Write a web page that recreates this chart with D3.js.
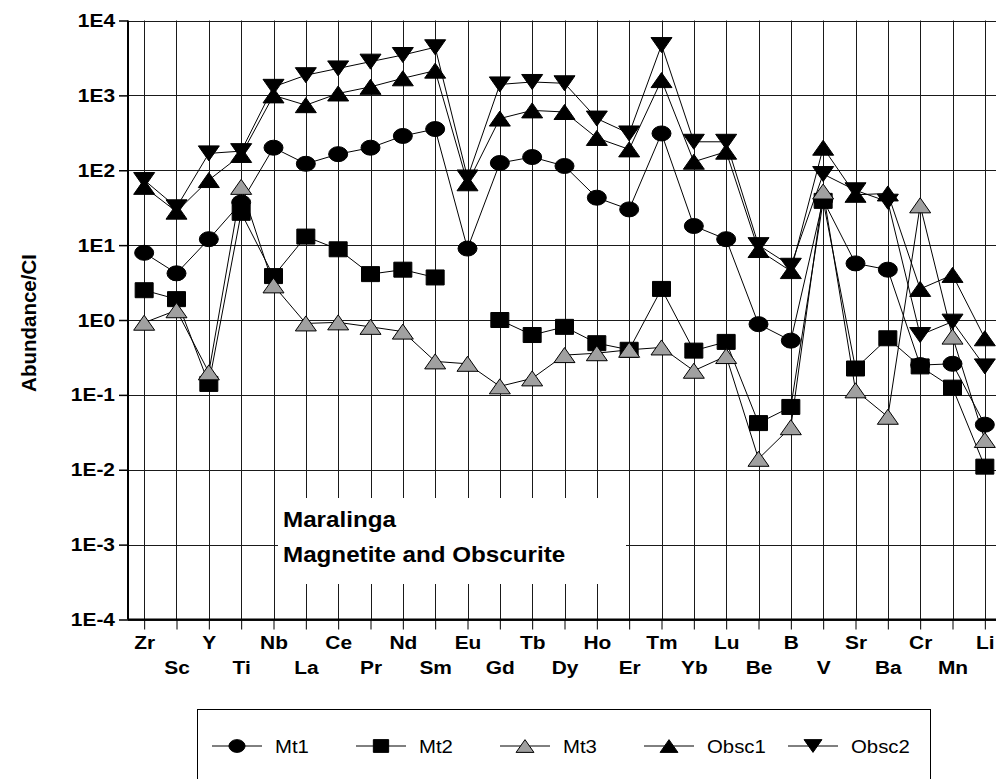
<!DOCTYPE html>
<html>
<head>
<meta charset="utf-8">
<script src="https://cdn.jsdelivr.net/npm/d3@7"></script>
<style>
  html, body { margin: 0; padding: 0; background: #fff; }
  svg { display: block; }
  text { font-family: "Liberation Sans", Arial, sans-serif; fill: #000; }
</style>
</head>
<body>
<svg id="chart" width="996" height="779"></svg>
<script>
// ---------------- DATA ----------------
const categories = ["Zr","Sc","Y","Ti","Nb","La","Ce","Pr","Nd","Sm","Eu","Gd","Tb","Dy","Ho","Er","Tm","Yb","Lu","Be","B","V","Sr","Ba","Cr","Mn","Li"];

const mt1   = [7.9, 4.2, 12, 37, 200, 122, 164, 200, 287, 355, 9.0, 125, 150, 114, 43, 30, 310, 18, 12, 0.88, 0.53, 40, 5.7, 4.7, 0.25, 0.26, 0.040];
const mt2   = [2.5, 1.9, 0.14, 27, 3.86, 13, 8.8, 4.1, 4.7, 3.7, null, 1.0, 0.63, 0.81, 0.49, 0.40, 2.6, 0.39, 0.51, 0.042, 0.069, 39, 0.225, 0.57, 0.24, 0.125, 0.011];
const mt3   = [0.92, 1.35, 0.20, 60, 2.9, 0.90, 0.93, 0.81, 0.70, 0.28, 0.26, 0.13, 0.166, 0.34, 0.36, 0.40, 0.43, 0.21, 0.33, 0.014, 0.037, 52, 0.115, 0.051, 34, 0.60, 0.025];
const obsc1 = [60, 28, 74, 160, 1000, 740, 1060, 1300, 1690, 2140, 67, 490, 630, 600, 270, 190, 1600, 130, 177, 8.6, 4.5, 200, 47, 49, 2.6, 4.0, 0.57];
const obsc2 = [74, 32, 168, 180, 1300, 1860, 2290, 2820, 3460, 4390, 80, 1400, 1510, 1450, 490, 310, 4700, 240, 240, 10, 5.3, 89, 54, 38, 0.63, 0.95, 0.24];

const seriesNames = ["Mt1","Mt2","Mt3","Obsc1","Obsc2"];
const yTickValues = [1e-4, 1e-3, 1e-2, 1e-1, 1e0, 1e1, 1e2, 1e3, 1e4];
const yTitle = "Abundance/CI";
const noteLines = ["Maralinga", "Magnetite and Obscurite"];

// ---------------- SETUP ----------------
const svg = d3.select("#chart");
const plot = { left: 128, right: 1001, top: 20.5, bottom: 619.5 };
const SX = 1.1; // horizontal text stretch of the original

const x = d3.scalePoint().domain(categories).range([plot.left, plot.right]).padding(0.5);
const y = d3.scaleLog().domain([1e-4, 1e4]).range([plot.bottom, plot.top]);

const series = [
  { name: seriesNames[0], values: mt1,   shape: "circle", fill: "#000" },
  { name: seriesNames[1], values: mt2,   shape: "square", fill: "#000" },
  { name: seriesNames[2], values: mt3,   shape: "tri",    fill: "#a0a0a0" },
  { name: seriesNames[3], values: obsc1, shape: "tri",    fill: "#000" },
  { name: seriesNames[4], values: obsc2, shape: "tridown",fill: "#000" }
];

// ---------------- GRID ----------------
const grid = svg.append("g").attr("stroke", "#1a1a1a").attr("stroke-width", 1);
grid.selectAll("line.h").data(yTickValues).join("line")
  .attr("x1", plot.left).attr("x2", plot.right)
  .attr("y1", d => Math.round(y(d)) + 0.5).attr("y2", d => Math.round(y(d)) + 0.5);
grid.selectAll("line.v").data(categories).join("line")
  .attr("x1", d => Math.round(x(d)) + 0.5).attr("x2", d => Math.round(x(d)) + 0.5)
  .attr("y1", plot.top).attr("y2", plot.bottom);

// white note box (covers gridlines)
svg.append("rect").attr("x", 278).attr("y", 498).attr("width", 348).attr("height", 86).attr("fill", "#fff");
const note = svg.append("g");
noteLines.forEach((t, i) => {
  note.append("text")
    .attr("transform", `translate(283,${527 + i * 35}) scale(${SX},1)`)
    .attr("font-size", 22).attr("font-weight", "bold").text(t);
});

// ---------------- AXES ----------------
const yAxis = d3.axisLeft(y).tickValues(yTickValues).tickSize(9).tickPadding(4)
  .tickFormat(d => "1E" + Math.round(Math.log10(d)));
const gy = svg.append("g").attr("transform", `translate(${plot.left},0)`).call(yAxis);
gy.select(".domain").attr("stroke", "#000").attr("stroke-width", 2).attr("d", `M0,${plot.top}V${plot.bottom}`);
gy.selectAll(".tick line").attr("stroke", "#000").attr("stroke-width", 1.5);
gy.selectAll(".tick text").attr("font-size", 19).attr("font-weight", "bold")
  .attr("font-family", "Liberation Sans, Arial, sans-serif")
  .attr("transform", `scale(${SX},1)`).attr("x", -13 / SX);

const xAxis = d3.axisBottom(x).tickSize(10).tickPadding(0);
const gx = svg.append("g").attr("transform", `translate(0,${plot.bottom})`).call(xAxis);
gx.select(".domain").attr("stroke", "#000").attr("stroke-width", 2).attr("d", `M${plot.left},0H${plot.right}`);
gx.selectAll(".tick line").attr("stroke", "#000").attr("stroke-width", 1);
gx.selectAll(".tick text").attr("font-size", 19).attr("font-weight", "bold")
  .attr("font-family", "Liberation Sans, Arial, sans-serif")
  .attr("dy", null)
  .attr("y", (d, i) => i % 2 === 0 ? 30 : 55)
  .attr("transform", `scale(${SX},1)`);

svg.append("text")
  .attr("transform", "translate(36,323) rotate(-90)")
  .attr("text-anchor", "middle").attr("font-size", 20.5).attr("font-weight", "bold")
  .text(yTitle);

// ---------------- MARKERS ----------------
function markerPath(shape, s) {
  if (shape === "square") return `M${-9*s},${-7.5*s}H${9*s}V${7.5*s}H${-9*s}Z`;
  if (shape === "tri") return `M0,${-7.5*s}L${10.5*s},${7.5*s}L${-10.5*s},${7.5*s}Z`;
  if (shape === "tridown") return `M${-10.5*s},${-7.5*s}L${10.5*s},${-7.5*s}L0,${7.5*s}Z`;
  const rx = 9.5*s, ry = 7.5*s;
  return `M${-rx},0A${rx},${ry} 0 1,0 ${rx},0A${rx},${ry} 0 1,0 ${-rx},0Z`;
}

const line = d3.line()
  .defined(d => d.v != null)
  .x(d => x(d.c)).y(d => y(d.v));

const data = series.map(s => ({ ...s, pts: categories.map((c, i) => ({ c, v: s.values[i] })) }));

svg.append("g").selectAll("path").data(data).join("path")
  .attr("d", d => line(d.pts)).attr("fill", "none").attr("stroke", "#000").attr("stroke-width", 1);

data.forEach(s => {
  svg.append("g").selectAll("path").data(s.pts.filter(p => p.v != null)).join("path")
    .attr("transform", p => `translate(${x(p.c)},${y(p.v)})`)
    .attr("d", markerPath(s.shape, 1))
    .attr("fill", s.fill).attr("stroke", "#000").attr("stroke-width", 1);
});

// ---------------- LEGEND ----------------
svg.append("rect").attr("x", 197.5).attr("y", 709.5).attr("width", 733).attr("height", 100)
  .attr("fill", "none").attr("stroke", "#000").attr("stroke-width", 1);
const lg = svg.append("g");
data.forEach((s, i) => {
  const cx = 237 + i * 144, cy = 746;
  lg.append("line").attr("x1", cx - 25).attr("x2", cx + 25).attr("y1", cy).attr("y2", cy)
    .attr("stroke", "#000").attr("stroke-width", 1);
  lg.append("path").attr("transform", `translate(${cx},${cy})`).attr("d", markerPath(s.shape, 0.85))
    .attr("fill", s.fill).attr("stroke", "#000").attr("stroke-width", 1);
  lg.append("text").attr("transform", `translate(${cx + 38},${cy + 7}) scale(${SX},1)`)
    .attr("font-size", 18.5).text(s.name);
});
</script>
</body>
</html>
